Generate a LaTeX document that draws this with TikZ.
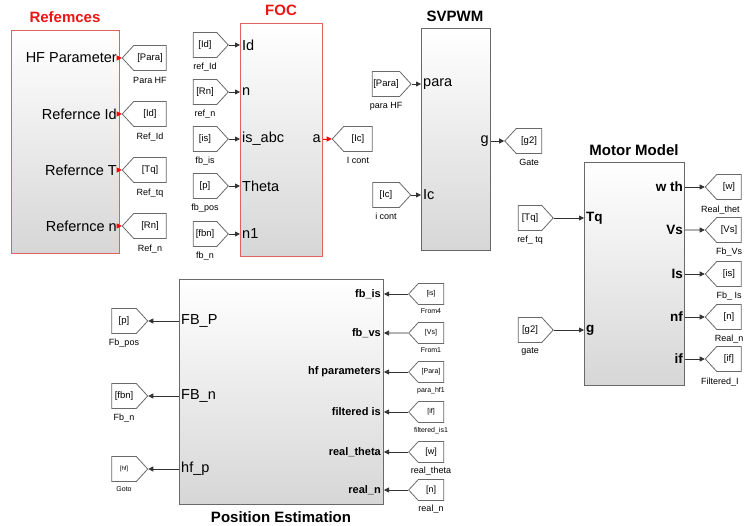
\documentclass[tikz,border=0pt]{standalone}
\usepackage{fontspec}
\setmainfont{Liberation Sans}
\usetikzlibrary{shapes.symbols,arrows.meta,positioning}

\definecolor{blkred}{RGB}{228,96,96}
\definecolor{blkgray}{RGB}{105,105,105}
\definecolor{titlered}{RGB}{238,20,20}

\begin{document}
\begin{tikzpicture}[
        x=1pt, y=-1pt,
        block/.style={
            rectangle, draw=blkgray, line width=1pt, top color=white, bottom color=black!16,
            anchor=north west, inner sep=0pt
        },
        redblock/.style={block, draw=blkred},
        title/.style={font=\fontsize{15}{16}\selectfont\bfseries, inner sep=0pt},
        port/.style={font=\fontsize{14.5}{16}\selectfont, inner sep=1pt},
        bport/.style={font=\fontsize{13.5}{15}\selectfont\bfseries, inner sep=1pt},
        sport/.style={font=\fontsize{11}{13}\selectfont\bfseries, inner sep=1pt},
        fromtag/.style={
            signal, signal to=east, signal pointer angle=95, draw=blkgray, line width=0.8pt,
            fill=white, minimum width=35pt, minimum height=25pt, inner sep=1pt,
            font=\fontsize{9.5}{10}\selectfont
        },
        gototag/.style={fromtag, signal to=west},
        smalltag/.style={fromtag, minimum height=21pt, font=\fontsize{7}{8}\selectfont},
        taglabel/.style={font=\fontsize{9}{10}\selectfont, inner sep=0pt},
        smalllabel/.style={font=\fontsize{7}{8}\selectfont, inner sep=0pt},
        sig/.style={-{Triangle[length=5pt,width=5pt]}, draw=black!80, line width=0.8pt},
        redsig/.style={sig, draw=red, fill=red},
        bus/.style={sig, double=black!30, double distance=1.2pt, line width=0.6pt}
    ]
    \useasboundingbox (0,0) rectangle (746,526);

    % Blocks
    \node[redblock, minimum width=108pt, minimum height=223pt] (ref) at (11,30) {};
    \node[redblock, minimum width=82pt, minimum height=233pt] (foc) at (240,23) {};
    \node[block, minimum width=69pt, minimum height=222pt] (svpwm) at (421,28) {};
    \node[block, minimum width=100pt, minimum height=223pt] (motor) at (584,162) {};
    \node[block, minimum width=204pt, minimum height=225pt] (pos) at (179,279) {};

    % Titles
    \node[title, text=titlered] (ref-t) at (65,17) {Refemces};
    \node[title, text=titlered] (foc-t) at (281,10) {FOC};
    \node[title] (svpwm-t) at (455,16) {SVPWM};
    \node[title] (motor-t) at (634,150) {Motor Model};
    \node[title] (pos-t) at (281,517) {Position Estimation};

    % References: goto tags
    \node[gototag, minimum width=44pt] (g-para) at (150,58) {[Para]};
    \node[gototag, minimum width=44pt] (g-id) at (150,114) {[Id]};
    \node[gototag, minimum width=44pt] (g-tq) at (150,170) {[Tq]};
    \node[gototag, minimum width=44pt] (g-rn) at (150,226) {[Rn]};
    \node[taglabel, below=6pt of g-para] (l-para) {Para HF};
    \node[taglabel, below=6pt of g-id] (l-id) {Ref\_Id};
    \node[taglabel, below=6pt of g-tq] (l-tq) {Ref\_tq};
    \node[taglabel, below=6pt of g-rn] (l-rn) {Ref\_n};

    \node[port, anchor=east] (ref-hf) at ([xshift=-2pt]ref.east |- g-para) {HF Parameter};
    \node[port, anchor=east] (ref-id) at ([xshift=-2pt]ref.east |- g-id) {Refernce Id};
    \node[port, anchor=east] (ref-tq) at ([xshift=-2pt]ref.east |- g-tq) {Refernce T};
    \node[port, anchor=east] (ref-n) at ([xshift=-2pt]ref.east |- g-rn) {Refernce n};

    \draw[redsig] (ref-hf -| ref.east) -- (g-para.west);
    \draw[redsig] (ref-id -| ref.east) -- (g-id.west);
    \draw[redsig] (ref-tq -| ref.east) -- (g-tq.west);
    \draw[redsig] (ref-n -| ref.east) -- (g-rn.west);

    % FOC: from tags
    \node[fromtag] (f-id) at (205,45) {[Id]};
    \node[fromtag] (f-rn) at (205,92) {[Rn]};
    \node[fromtag] (f-is) at (205,139) {[is]};
    \node[fromtag] (f-p) at (205,186) {[p]};
    \node[fromtag] (f-fbn) at (205,234) {[fbn]};
    \node[taglabel, below=5pt of f-id] (l-fid) {ref\_Id};
    \node[taglabel, below=5pt of f-rn] (l-frn) {ref\_n};
    \node[taglabel, below=5pt of f-is] (l-fis) {fb\_is};
    \node[taglabel, below=5pt of f-p] (l-fp) {fb\_pos};
    \node[taglabel, below=5pt of f-fbn] (l-ffbn) {fb\_n};

    \node[port, anchor=west] (foc-id) at ([xshift=1pt]foc.west |- f-id) {Id};
    \node[port, anchor=west] (foc-n) at ([xshift=1pt]foc.west |- f-rn) {n};
    \node[port, anchor=west] (foc-is) at ([xshift=1pt]foc.west |- f-is) {is\_abc};
    \node[port, anchor=west] (foc-th) at ([xshift=1pt]foc.west |- f-p) {Theta};
    \node[port, anchor=west] (foc-n1) at ([xshift=1pt]foc.west |- f-fbn) {n1};
    \node[port, anchor=east] (foc-a) at ([xshift=-1pt]foc.east |- f-is) {a};

    \draw[sig] (f-id.east) -- (foc-id -| foc.west);
    \draw[sig] (f-rn.east) -- (foc-n -| foc.west);
    \draw[sig] (f-is.east) -- (foc-is -| foc.west);
    \draw[sig] (f-p.east) -- (foc-th -| foc.west);
    \draw[sig] (f-fbn.east) -- (foc-n1 -| foc.west);

    \node[gototag, minimum width=40pt] (g-ic) at (358,139) {[Ic]};
    \node[taglabel, below=5pt of g-ic] (l-gic) {I cont};
    \draw[redsig] (foc-a -| foc.east) -- (g-ic.west);

    % SVPWM
    \node[fromtag, minimum width=38pt] (f-para) at (386,84) {[Para]};
    \node[fromtag, minimum width=38pt] (f-ic) at (386,195) {[Ic]};
    \node[taglabel, below=5pt of f-para] (l-fpara) {para HF};
    \node[taglabel, below=5pt of f-ic] (l-fic) {i cont};

    \node[port, anchor=west] (sv-para) at ([xshift=1pt]svpwm.west |- f-para) {para};
    \node[port, anchor=west] (sv-ic) at ([xshift=1pt]svpwm.west |- f-ic) {Ic};
    \node[port, anchor=east] (sv-g) at ([xshift=-1pt]svpwm.east |- 0,141) {g};

    \draw[sig] (f-para.east) -- (sv-para -| svpwm.west);
    \draw[sig] (f-ic.east) -- (sv-ic -| svpwm.west);

    \node[gototag, minimum width=37pt] (g-g2) at (529,141) {[g2]};
    \node[taglabel, below=5pt of g-g2] (l-gg2) {Gate};
    \draw[sig] (sv-g -| svpwm.east) -- (g-g2.west);

    % Motor Model
    \node[fromtag] (f-tq) at (530,218) {[Tq]};
    \node[fromtag] (f-g2) at (530,330) {[g2]};
    \node[taglabel, below=5pt of f-tq] (l-ftq) {ref\_ tq};
    \node[taglabel, below=5pt of f-g2] (l-fg2) {gate};

    \node[bport, anchor=west] (m-tq) at ([xshift=1pt]motor.west |- f-tq) {Tq};
    \node[bport, anchor=west] (m-g) at ([xshift=1pt]motor.west |- f-g2) {g};
    \draw[sig] (f-tq.east) -- (m-tq -| motor.west);
    \draw[sig] (f-g2.east) -- (m-g -| motor.west);

    \node[gototag, minimum width=36pt] (g-w) at (729,187) {[w]};
    \node[gototag, minimum width=36pt] (g-vs) at (729,230) {[Vs]};
    \node[gototag, minimum width=36pt] (g-is) at (729,274) {[is]};
    \node[gototag, minimum width=36pt] (g-n) at (729,317) {[n]};
    \node[gototag, minimum width=36pt] (g-if) at (729,359) {[if]};
    \node[taglabel, anchor=north west] (l-gw) at (701,206) {Real\_thet};
    \node[taglabel, below=5pt of g-vs] (l-gvs) {Fb\_Vs};
    \node[taglabel, below=5pt of g-is] (l-gis) {Fb\_ Is};
    \node[taglabel, below=5pt of g-n] (l-gn) {Real\_n};
    \node[taglabel, anchor=north west] (l-gif) at (701,378) {Filtered\_I};

    \node[bport, anchor=east] (m-w) at ([xshift=-1pt]motor.east |- g-w) {w th};
    \node[bport, anchor=east] (m-vs) at ([xshift=-1pt]motor.east |- g-vs) {Vs};
    \node[bport, anchor=east] (m-is) at ([xshift=-1pt]motor.east |- g-is) {Is};
    \node[bport, anchor=east] (m-nf) at ([xshift=-1pt]motor.east |- g-n) {nf};
    \node[bport, anchor=east] (m-if) at ([xshift=-1pt]motor.east |- g-if) {if};

    \draw[sig] (m-w -| motor.east) -- (g-w.west);
    \draw[bus] (m-vs -| motor.east) -- (g-vs.west);
    \draw[sig] (m-is -| motor.east) -- (g-is.west);
    \draw[sig] (m-nf -| motor.east) -- (g-n.west);
    \draw[sig] (m-if -| motor.east) -- (g-if.west);

    % Position Estimation: outputs on the left
    \node[fromtag, minimum width=36pt] (g-p) at (124,321) {[p]};
    \node[fromtag, minimum width=36pt] (g-fbn) at (124,396) {[fbn]};
    \node[fromtag, minimum width=36pt, font=\fontsize{6}{7}\selectfont] (g-hf) at (124,469) {[hf]};
    \node[taglabel, below=5pt of g-p] (l-gp) {Fb\_pos};
    \node[taglabel, below=5pt of g-fbn] (l-gfbn) {Fb\_n};
    \node[smalllabel, below=5pt of g-hf] (l-ghf) {Goto};

    \node[port, anchor=west] (pe-p) at ([xshift=1pt]pos.west |- g-p) {FB\_P};
    \node[port, anchor=west] (pe-n) at ([xshift=1pt]pos.west |- g-fbn) {FB\_n};
    \node[port, anchor=west] (pe-hf) at ([xshift=1pt]pos.west |- g-hf) {hf\_p};

    \draw[sig] (pe-p -| pos.west) -- (g-p.east);
    \draw[sig] (pe-n -| pos.west) -- (g-fbn.east);
    \draw[sig] (pe-hf -| pos.west) -- (g-hf.east);

    % Position Estimation: inputs on the right
    \node[smalltag, signal to=west] (f-is2) at (431,294) {[is]};
    \node[smalltag, signal to=west] (f-vs) at (431,333) {[Vs]};
    \node[smalltag, signal to=west] (f-para2) at (431,372) {[Para]};
    \node[smalltag, signal to=west] (f-if) at (431,412) {[if]};
    \node[smalltag, signal to=west, font=\fontsize{9}{10}\selectfont] (f-w) at (431,452) {[w]};
    \node[smalltag, signal to=west, font=\fontsize{9}{10}\selectfont] (f-n) at (431,490) {[n]};
    \node[smalllabel, below=4pt of f-is2] (l-fis2) {From4};
    \node[smalllabel, below=4pt of f-vs] (l-fvs) {From1};
    \node[smalllabel, below=4pt of f-para2] (l-fpara2) {para\_hf1};
    \node[smalllabel, below=4pt of f-if] (l-fif) {filtered\_is1};
    \node[taglabel, below=4pt of f-w] (l-fw) {real\_theta};
    \node[taglabel, below=4pt of f-n] (l-fn) {real\_n};

    \node[sport, anchor=east] (pe-is) at ([xshift=-2pt]pos.east |- f-is2) {fb\_is};
    \node[sport, anchor=east] (pe-vs) at ([xshift=-2pt]pos.east |- f-vs) {fb\_vs};
    \node[sport, anchor=east] (pe-para) at ([xshift=-2pt]pos.east |- f-para2) {hf parameters};
    \node[sport, anchor=east] (pe-if) at ([xshift=-2pt]pos.east |- f-if) {filtered is};
    \node[sport, anchor=east] (pe-w) at ([xshift=-2pt]pos.east |- f-w) {real\_theta};
    \node[sport, anchor=east] (pe-rn) at ([xshift=-2pt]pos.east |- f-n) {real\_n};

    \draw[sig] (f-is2.west) -- (pe-is -| pos.east);
    \draw[bus] (f-vs.west) -- (pe-vs -| pos.east);
    \draw[sig] (f-para2.west) -- (pe-para -| pos.east);
    \draw[sig] (f-if.west) -- (pe-if -| pos.east);
    \draw[sig] (f-w.west) -- (pe-w -| pos.east);
    \draw[sig] (f-n.west) -- (pe-rn -| pos.east);
\end{tikzpicture}
\end{document}
